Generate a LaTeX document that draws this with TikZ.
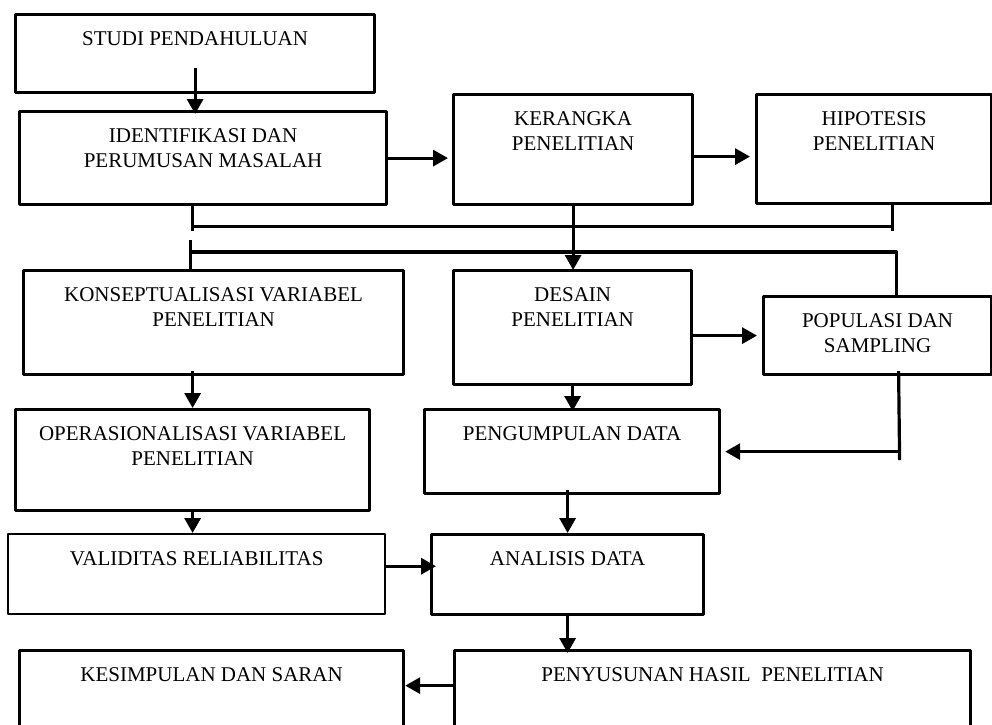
\documentclass[tikz,border=0pt]{standalone}
\usepackage{fontspec}
\setmainfont{Liberation Serif}
\usetikzlibrary{arrows.meta}

\begin{document}
\begin{tikzpicture}[
  x = 1pt,
  y = -1pt,
  line join=round,
  kotak/.style 2 args={draw, line width=3.2pt, inner sep=0pt, anchor=north west,
    font=\fontsize{21}{24.5}\selectfont,
    execute at begin node={\begin{minipage}[t][#2][t]{#1}\centering\rule{0pt}{31pt}},
    execute at end node={\end{minipage}}},
  garis/.style={line width=3.2pt},
  panah/.style={garis, -{Triangle[length=15pt,width=16pt]}}
]
  \useasboundingbox (0,0) rectangle (992,724);
  \clip (0,0) rectangle (992,724);

  % 상자
  \node[kotak={359pt}{78pt}]  (studi)       at (14,13)   {STUDI PENDAHULUAN};
  \node[kotak={367pt}{93pt}]  (identifikasi) at (18,110) {IDENTIFIKASI DAN\\PERUMUSAN MASALAH};
  \node[kotak={239pt}{110pt}] (kerangka)    at (452,93)  {KERANGKA\\PENELITIAN};
  \node[kotak={235pt}{109pt}] (hipotesis)   at (755,93)  {HIPOTESIS\\PENELITIAN};
  \node[kotak={380pt}{104pt}] (konsep)      at (22,269)  {KONSEPTUALISASI VARIABEL\\PENELITIAN};
  \node[kotak={238pt}{114pt}] (desain)      at (452,269) {DESAIN\\PENELITIAN};
  \node[kotak={228pt}{78pt}]  (populasi)    at (762,295) {POPULASI DAN\\SAMPLING};
  \node[kotak={354pt}{101pt}] (operasional) at (14,408)  {OPERASIONALISASI VARIABEL\\PENELITIAN};
  \node[kotak={295pt}{84pt}]  (pengumpulan) at (423,408) {PENGUMPULAN DATA};
  \node[kotak={377pt}{80pt}, line width=2.4pt] (validitas) at (7,533) {VALIDITAS RELIABILITAS};
  \node[kotak={272pt}{80pt}]  (analisis)    at (430,533) {ANALISIS DATA};
  \node[kotak={384pt}{100pt}] (kesimpulan)  at (18,649)  {KESIMPULAN DAN SARAN};
  \node[kotak={516pt}{100pt}] (penyusunan)  at (453,649) {PENYUSUNAN HASIL\ \ PENELITIAN};

  % 위쪽 화살표
  \coordinate (a1) at ([yshift=26pt]studi.south);
  \draw[panah, shorten >=-4pt] (a1) -- (a1 |- identifikasi.north);
  \draw[panah, shorten >=4pt] (identifikasi.east) -- (identifikasi.east -| kerangka.west);
  \coordinate (a2) at ([yshift=-7pt]kerangka.east);
  \draw[panah, shorten >=5pt] (a2) -- (a2 -| hipotesis.west);

  % 연결선 1
  \coordinate (b1) at ([xshift=-11pt]identifikasi.south);
  \coordinate (b2) at ([xshift=18pt]hipotesis.south);
  \coordinate (b3) at ([yshift=-20pt]b1);
  \draw[garis] (b1) -- ++(0,25);
  \draw[garis] (b2) -- ++(0,26);
  \draw[garis] (b3) -- (b3 -| b2);
  \draw[panah, shorten >=-1pt] (kerangka.south) -- (kerangka.south |- desain.north);

  % 연결선 2
  \coordinate (c1) at ([xshift=-23pt]konsep.north);
  \coordinate (c2) at ([xshift=19pt]populasi.north);
  \coordinate (c3) at ([yshift=17pt]c1);
  \draw[garis] (c1) -- ++(0,-29);
  \draw[garis] (c3) -| (c2);

  % 가운데 화살표
  \draw[panah, shorten >=5pt] (desain.east |- populasi.west) -- (populasi.west);
  \draw[panah, shorten >=-3pt] (desain.south) -- (desain.south |- pengumpulan.north);
  \coordinate (d1) at ([xshift=21pt,yshift=5pt]populasi.south);
  \draw[garis] (d1) -- ++(1,89);
  \draw[panah, shorten >=4pt] (pengumpulan.east -| d1) -- (pengumpulan.east);

  % 왼쪽 화살표
  \coordinate (e1) at (operasional.north |- konsep.south);
  \draw[panah] ([yshift=5pt]e1) -- (operasional.north);
  \draw[panah] (operasional.south) -- (operasional.south |- validitas.north);
  \coordinate (f1) at ([yshift=8pt]validitas.east);
  \draw[panah, shorten >=-6pt] (f1) -- (f1 -| analisis.west);

  % 아래쪽 화살표
  \coordinate (g1) at (analisis.north |- pengumpulan.south);
  \draw[panah] ([yshift=5pt]g1) -- (analisis.north);
  \draw[panah, shorten >=-4pt] (analisis.south) -- (analisis.south |- penyusunan.north);
  \coordinate (h1) at ([yshift=15pt]penyusunan.west);
  \draw[panah] (h1) -- (h1 -| kesimpulan.east);
\end{tikzpicture}
\end{document}
